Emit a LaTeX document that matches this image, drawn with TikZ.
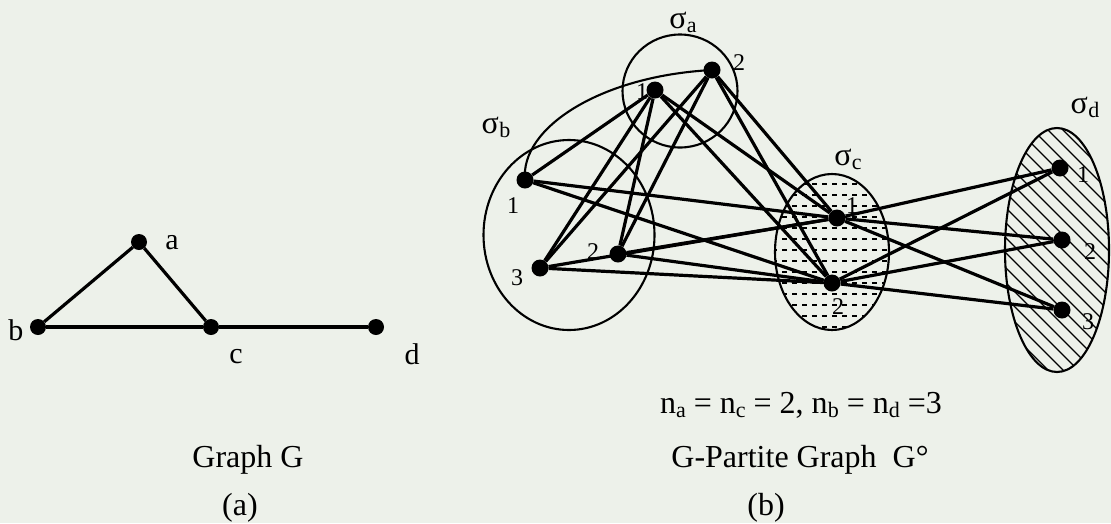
\documentclass[tikz,border=0pt]{standalone}
\usepackage{fontspec}
\setmainfont{Liberation Serif}
\usetikzlibrary{shapes.geometric}
\definecolor{bg}{RGB}{237,241,234}
\newcommand\sg[1]{σ\kern0.3pt\raisebox{-0.3ex}{\fontsize{22}{22}\selectfont #1}}
\newcommand\nsub[1]{n\raisebox{-0.3ex}{\fontsize{22}{22}\selectfont #1}}
\begin{document}
\begin{tikzpicture}[x=1pt,y=-1pt,
  dot/.style={circle,fill=black,inner sep=0pt,minimum size=17pt},
  edge/.style={line width=3.2pt},
  region/.style={draw,ellipse,line width=2.1pt,inner sep=0pt},
  lbl/.style={font=\fontsize{30}{36}\selectfont,inner sep=0pt},
  num/.style={font=\fontsize{24}{28}\selectfont,inner sep=0pt},
  sig/.style={font=\fontsize{32}{38}\selectfont,inner sep=0pt,anchor=base},
  captxt/.style={font=\fontsize{32}{38}\selectfont,inner sep=0pt,anchor=base}]
\fill[bg] (0,0) rectangle (1111,523);
\useasboundingbox (0,0) rectangle (1111,523);

% ---------- (a) Graph G ----------
\node[dot,minimum size=16pt] (ga) at (139,242) {};
\node[dot,minimum size=16pt] (gb) at (38,327) {};
\node[dot,minimum size=16pt] (gc) at (211,327) {};
\node[dot,minimum size=16pt] (gd) at (376,327) {};
\draw[edge] (ga) -- (gb);
\draw[edge] (ga) -- (gc);
\draw[edge] (gb) -- (gc);
\draw[edge] (gc) -- (gd);
\node[lbl] (la) at (172,243) {a};
\node[lbl] (lb) at (16,330) {b};
\node[lbl] (lc) at (236,357) {c};
\node[lbl] (ld) at (412,354) {d};
\node[captxt] (capa) at (248,467) {Graph G};
\node[captxt] (tagA) at (240,515) {(a)};

% ---------- (b) fills ----------
\begin{scope}
\clip (832,252) ellipse [x radius=57pt, y radius=78pt];
\foreach \yy in {184,195,...,334}
  \draw[line width=2.2pt, dash pattern=on 5pt off 5pt] (772,\yy) -- (895,\yy);
\end{scope}
\begin{scope}
\clip (1057,250) ellipse [x radius=52pt, y radius=122pt];
\foreach \k in {0,...,24}
  \draw[line width=1.4pt] (733+\k*15,100) -- ++(300,300);
\end{scope}

% ---------- regions ----------
\node[region,minimum width=115pt,minimum height=113pt] (sa) at (680,91) {};
\node[region,minimum width=171pt,minimum height=190pt] (sb) at (569,235) {};
\node[region,minimum width=114pt,minimum height=156pt] (sc) at (832,252) {};
\node[region,minimum width=104pt,minimum height=244pt] (sd) at (1057,250) {};

% ---------- vertices ----------
\node[dot] (a1) at (655,90) {};
\node[dot] (a2) at (712,70) {};
\node[dot] (b1) at (525,180) {};
\node[dot] (b2) at (618,254) {};
\node[dot] (b3) at (540,268) {};
\node[dot] (c1) at (837,218) {};
\node[dot] (c2) at (832,283) {};
\node[dot] (d1) at (1060,168) {};
\node[dot] (d2) at (1062,240) {};
\node[dot] (d3) at (1062,310) {};

% ---------- edges ----------
\draw[line width=2.1pt] (b1.center) .. controls (520,128) and (600,76) .. (a2.center);
\foreach \u/\v in {a1/b1,a1/b2,a1/b3,a2/b2,a2/b3,
                   a1/c1,a1/c2,a2/c1,a2/c2,
                   b1/c1,b1/c2,b2/c1,b2/c2,b3/c1,b3/c2,
                   c1/d1,c1/d2,c1/d3,c2/d1,c2/d2,c2/d3}
  \draw[edge] (\u) -- (\v);

% ---------- labels ----------
\node[num] (na1) at (642,92) {1};
\node[num] (na2) at (739,63) {2};
\node[num] (nb1) at (513,206) {1};
\node[num] (nb2) at (593,252) {2};
\node[num] (nb3) at (517,278) {3};
\node[num] (nc1) at (852,206) {1};
\node[num] (nc2) at (838,307) {2};
\node[num] (nd1) at (1083,175) {1};
\node[num] (nd2) at (1090,252) {2};
\node[num] (nd3) at (1088,322) {3};

\node[sig] (la2) at (683,28) {\sg{a}};
\node[sig] (lb2) at (496,133) {\sg{b}};
\node[sig] (lc2) at (848,165) {\sg{c}};
\node[sig] (ld2) at (1085,113) {\sg{d}};

\node[captxt] (eq) at (801,413) {\nsub{a} = \nsub{c} = 2, \nsub{b} = \nsub{d} =3};
\node[captxt] (capb) at (800,467) {G-Partite Graph\ \ G°};
\node[captxt] (tagB) at (766,515) {(b)};
\end{tikzpicture}
\end{document}
